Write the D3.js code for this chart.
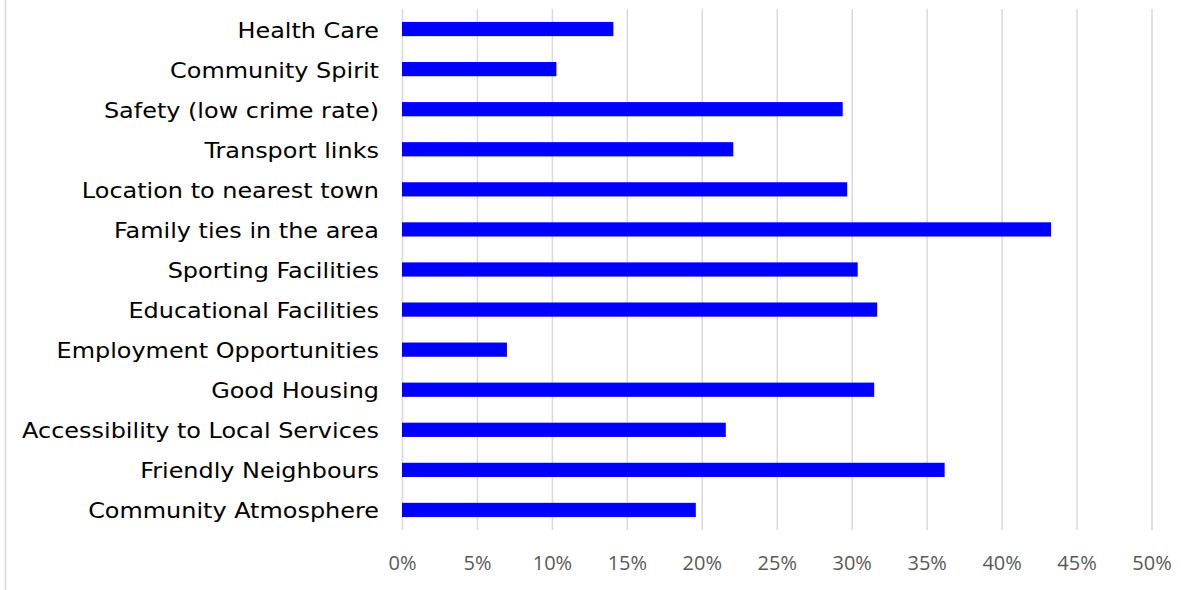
<!DOCTYPE html>
<html>
<head>
<meta charset="utf-8">
<script src="https://cdn.jsdelivr.net/npm/d3@7"></script>
<style>
  html, body { margin: 0; padding: 0; background: #fff; }
  svg { display: block; }
</style>
</head>
<body>
<svg id="chart" width="1195" height="590"></svg>
<script>
// Reasons for living in the area, share of respondents (%)
const categories = [
  "Health Care",
  "Community Spirit",
  "Safety (low crime rate)",
  "Transport links",
  "Location to nearest town",
  "Family ties in the area",
  "Sporting Facilities",
  "Educational Facilities",
  "Employment Opportunities",
  "Good Housing",
  "Accessibility to Local Services",
  "Friendly Neighbours",
  "Community Atmosphere"
];
const values = [14.1, 10.3, 29.4, 22.1, 29.7, 43.3, 30.4, 31.7, 7.0, 31.5, 21.6, 36.2, 19.6];
const tickValues = [0, 5, 10, 15, 20, 25, 30, 35, 40, 45, 50];
const tickLabels = ["0%", "5%", "10%", "15%", "20%", "25%", "30%", "35%", "40%", "45%", "50%"];

const svg = d3.select("#chart");

const plotTop = 9, plotBottom = 530;
const x = d3.scaleLinear().domain([0, 50]).range([402, 1151.5]);
const y = d3.scaleBand()
  .domain(categories)
  .range([plotTop, plotBottom])
  .paddingInner(0.645)
  .paddingOuter(0.3225);

// outer frame edge on the left
svg.append("line")
  .attr("x1", 5.5).attr("x2", 5.5)
  .attr("y1", 0).attr("y2", 590)
  .attr("stroke", "#d9d9d9")
  .attr("stroke-width", 1.5);

// value axis with vertical gridlines
const axis = svg.append("g")
  .attr("transform", `translate(0,${plotBottom})`)
  .call(d3.axisBottom(x)
    .tickValues(tickValues)
    .tickSize(-(plotBottom - plotTop))
    .tickFormat((d, i) => tickLabels[i]));
axis.select(".domain").remove();
axis.selectAll(".tick line")
  .attr("stroke", "#d9d9d9")
  .attr("stroke-width", 1.5);
axis.selectAll(".tick text")
  .attr("y", 40)
  .attr("dy", 0)
  .attr("fill", "#595959")
  .style("font-family", "'Open Sans', 'Noto Sans', sans-serif")
  .style("font-size", "20px");

// bars
svg.append("g")
  .selectAll("rect")
  .data(categories)
  .join("rect")
  .attr("x", x(0))
  .attr("y", d => y(d))
  .attr("width", (d, i) => x(values[i]) - x(0))
  .attr("height", y.bandwidth())
  .attr("fill", "#0000ff");

// category labels, right-aligned against the plot
svg.append("g")
  .selectAll("g")
  .data(categories)
  .join("g")
  .attr("transform", d => `translate(379,${y(d) + y.bandwidth() / 2 + 8.5}) scale(1.14,1)`)
  .append("text")
  .attr("text-anchor", "end")
  .attr("fill", "#000")
  .style("font-family", "'DejaVu Sans', Verdana, sans-serif")
  .style("font-size", "21px")
  .text(d => d);
</script>
</body>
</html>
